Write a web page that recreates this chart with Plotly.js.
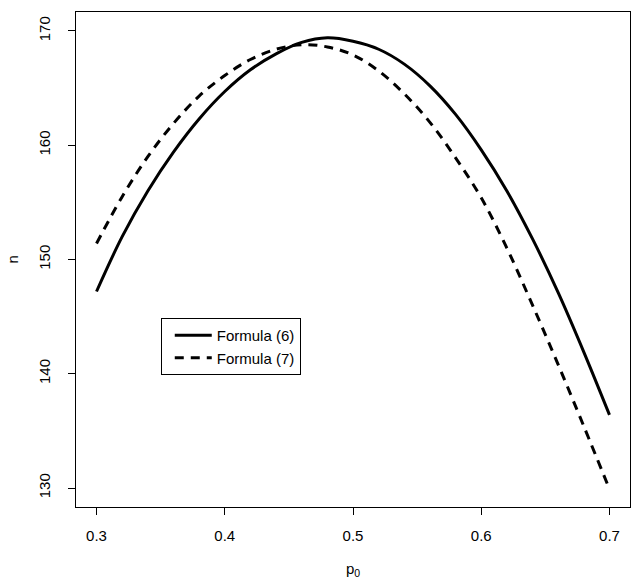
<!DOCTYPE html>
<html>
<head>
<meta charset="utf-8">
<script src="https://cdn.plot.ly/plotly-3.0.1.min.js"></script>
<style>
  html, body { margin: 0; padding: 0; background: #ffffff; }
  #chart { width: 636px; height: 587px; }
</style>
</head>
<body>
<div id="chart"></div>
<script>
// p0 values and sample sizes
const p0 = [0.30, 0.32, 0.34, 0.36, 0.38, 0.40, 0.42, 0.44, 0.46, 0.48, 0.50,
            0.52, 0.54, 0.56, 0.58, 0.60, 0.62, 0.64, 0.66, 0.68, 0.70];

const formula6 = [147.2, 152.0, 156.0, 159.4, 162.3, 164.7, 166.6, 168.0, 169.0, 169.4, 169.1,
                  168.4, 167.1, 165.2, 162.7, 159.6, 156.0, 151.8, 147.1, 141.9, 136.4];

const formula7 = [151.4, 155.5, 159.0, 161.9, 164.3, 166.1, 167.5, 168.4, 168.8, 168.6, 167.9,
                  166.5, 164.5, 162.0, 158.9, 155.4, 151.0, 146.0, 140.8, 135.4, 129.9];

const xTicks = [0.3, 0.4, 0.5, 0.6, 0.7];
const yTicks = [130, 140, 150, 160, 170];

const fontFamily = 'Arial, "Liberation Sans", sans-serif';

const traces = [
    {
        x: p0,
        y: formula6,
        type: 'scatter',
        mode: 'lines',
        name: 'Formula (6)',
        line: { color: '#000000', width: 3, shape: 'spline', smoothing: 1 }
    },
    {
        x: p0,
        y: formula7,
        type: 'scatter',
        mode: 'lines',
        name: 'Formula (7)',
        line: { color: '#000000', width: 3, dash: '9px,7px', shape: 'spline', smoothing: 1 }
    }
];

const layout = {
    width: 636,
    height: 587,
    margin: { l: 76, r: 6, t: 12, b: 80 },
    paper_bgcolor: '#ffffff',
    plot_bgcolor: '#ffffff',
    font: { family: fontFamily, size: 15, color: '#000000' },
    showlegend: true,
    legend: {
        x: 0.153,
        y: 0.382,
        xanchor: 'left',
        yanchor: 'top',
        bgcolor: '#ffffff',
        bordercolor: '#000000',
        borderwidth: 1,
        font: { family: fontFamily, size: 15, color: '#000000' },
        indentation: 8,
        itemwidth: 37,
        tracegroupgap: 0
    },
    xaxis: {
        range: [0.284, 0.716],
        tickvals: xTicks,
        ticktext: xTicks.map(v => v.toFixed(1)),
        ticks: 'outside',
        ticklen: 7,
        tickwidth: 1,
        tickcolor: '#000000',
        ticklabelstandoff: 8,
        showline: true,
        linecolor: '#000000',
        linewidth: 1,
        mirror: true,
        showgrid: false,
        zeroline: false,
        title: { text: 'p<sub>0</sub>', standoff: 20, font: { size: 15 } }
    },
    yaxis: {
        range: [128.34, 171.66],
        tickvals: yTicks,
        ticktext: yTicks.map(String),
        tickangle: -90,
        ticks: 'outside',
        ticklen: 7,
        tickwidth: 1,
        tickcolor: '#000000',
        ticklabelstandoff: 12,
        showline: true,
        linecolor: '#000000',
        linewidth: 1,
        mirror: true,
        showgrid: false,
        zeroline: false
    },
    annotations: [
        {
            text: 'n',
            xref: 'paper',
            yref: 'paper',
            x: -0.1155,
            y: 0.5,
            xanchor: 'center',
            yanchor: 'middle',
            textangle: -90,
            showarrow: false,
            font: { family: fontFamily, size: 15, color: '#000000' }
        }
    ]
};

Plotly.newPlot('chart', traces, layout, { displayModeBar: false, staticPlot: true });
</script>
</body>
</html>
